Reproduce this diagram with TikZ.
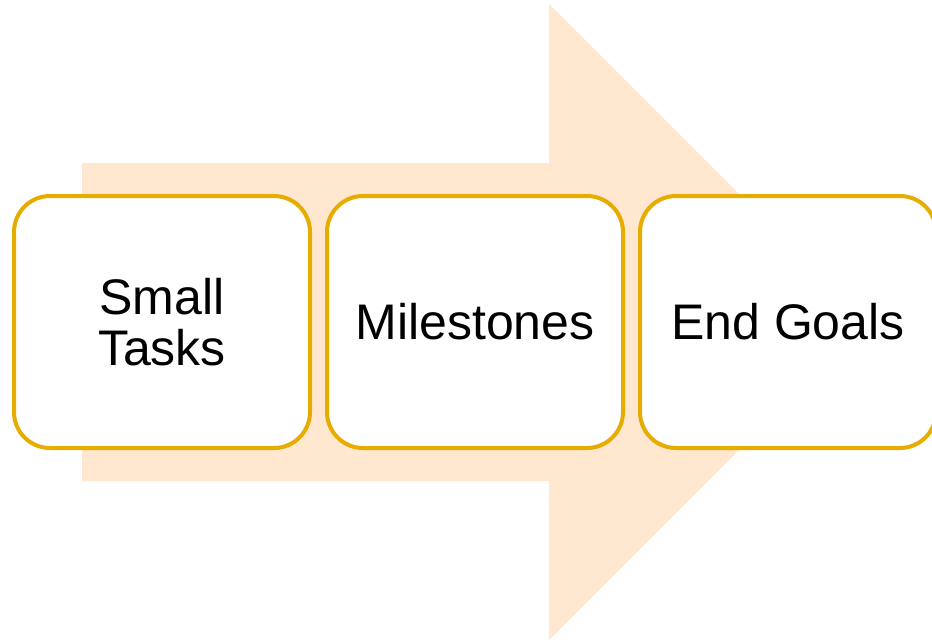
\documentclass[tikz,border=0pt]{standalone}
\usepackage{fontspec}
\setmainfont{Liberation Sans}
\definecolor{peach}{HTML}{FFE8CF}
\definecolor{gold}{HTML}{E6AC00}
\tikzset{
  stage/.style={draw=gold, line width=4pt, fill=white, rounded corners=36pt,
    minimum width=296pt, minimum height=252pt, inner sep=0pt, align=center,
    font=\fontsize{50}{51}\selectfont},
}
\begin{document}
\begin{tikzpicture}[x=1pt,y=-1pt]
\clip (0,0) rectangle (932,640);
\useasboundingbox (0,0) rectangle (932,640);
\fill[peach] (82,163) -- (549,163) -- (549,4) -- (867,322) -- (549,640) -- (549,481) -- (82,481) -- cycle;
\node[stage] (tasks) at (162,322) {Small\\Tasks};
\node[stage] (miles) at (475,322) {Milestones};
\node[stage] (goals) at (788,322) {End Goals};
\end{tikzpicture}
\end{document}
